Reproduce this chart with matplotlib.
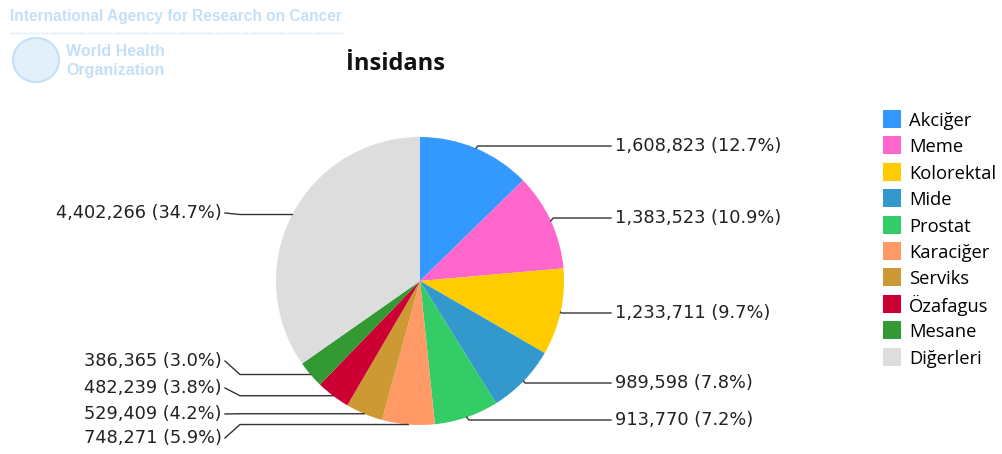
import matplotlib
matplotlib.use("Agg")
import matplotlib.pyplot as plt
import matplotlib.patches as mpatches
import numpy as np

categories = ["Akciğer", "Meme", "Kolorektal", "Mide", "Prostat", "Karaciğer",
              "Serviks", "Özafagus", "Mesane", "Diğerleri"]
values = [1608823, 1383523, 1233711, 989598, 913770, 748271,
          529409, 482239, 386365, 4402266]
colors = ["#3399FF", "#FF66CC", "#FFCC00", "#3399CC", "#33CC66", "#FF9966",
          "#CC9933", "#CC0033", "#339933", "#DDDDDD"]
title = "İnsidans"

# layout: label vertical positions in pixels (from top) and side
label_y_px = [146, 218, 313, 383, 420, 438, 414, 388, 361, 213]
label_side = ["R", "R", "R", "R", "R", "L", "L", "L", "L", "L"]

W, H, DPI = 1002, 454, 100
fig = plt.figure(figsize=(W / DPI, H / DPI), dpi=DPI)
fig.patch.set_facecolor("white")

cx, cy, R = 420, 281, 144  # pie centre/radius in px


def fx(x):
    return x / W


def fy(y):
    return 1 - y / H


ax = fig.add_axes([fx(cx - R), fy(cy + R), 2 * R / W, 2 * R / H])
ax.axis("off")

wedges, _ = ax.pie(values, colors=colors, startangle=90, counterclock=False,
                   radius=1, wedgeprops=dict(linewidth=0))
ax.set_xlim(-1, 1)
ax.set_ylim(-1, 1)
ax.set_aspect("auto")

total = sum(values)
px = 1.0 / R
lab_font = dict(family="DejaVu Sans", fontsize=12.8, color="#222222")
for w, v, ly, side in zip(wedges, values, label_y_px, label_side):
    mid = np.deg2rad((w.theta1 + w.theta2) / 2)
    axp, ayp = np.cos(mid), np.sin(mid)
    ly_d = (cy - ly) * px
    txt = f"{v:,} ({100 * v / total:.1f}%)"
    if side == "R":
        lx = (615 - cx) * px
        dy = abs(ly_d - ayp)
        xs = [axp, axp + dy * 0.8, lx - 4 * px]
        ys = [ayp, ly_d, ly_d]
        ax.plot(xs, ys, color="#333333", lw=1, clip_on=False)
        ax.text(lx, ly_d, txt, ha="left", va="center", clip_on=False, **lab_font)
    else:
        lx = (222 - cx) * px
        xs = [lx + 3 * px, lx + 18 * px, axp]
        ys = [ly_d, ayp, ayp]
        ax.plot(xs, ys, color="#333333", lw=1, clip_on=False)
        ax.text(lx, ly_d, txt, ha="right", va="center", clip_on=False, **lab_font)

# title
fig.text(fx(396), fy(64), title, ha="center", va="center", fontsize=17,
         fontweight="bold", family="Open Sans", color="#111111")

# legend
for i, (c, n) in enumerate(zip(colors, categories)):
    yc = 119 + 26.4 * i
    fig.patches.append(mpatches.Rectangle((fx(883), fy(yc + 9)), 18 / W, 18 / H,
                                          transform=fig.transFigure,
                                          facecolor=c, edgecolor="none"))
    fig.text(fx(909), fy(yc + 2), n, ha="left", va="center", fontsize=13.2,
             family="Open Sans", color="#000000")

# faint header logo
logo_c = "#c4e0f7"
fig.text(fx(10), fy(17), "International Agency for Research on Cancer",
         ha="left", va="center", fontsize=11.2, fontweight="bold",
         family="Liberation Sans", color=logo_c)
fig.lines.append(plt.Line2D([fx(10), fx(342)], [fy(33), fy(33)],
                            transform=fig.transFigure, color=logo_c, lw=1,
                            linestyle=(0, (1, 1))))
fig.patches.append(mpatches.Ellipse((fx(36), fy(60)), 46 / W, 44 / H,
                                    transform=fig.transFigure,
                                    facecolor="#e3f0fb", edgecolor=logo_c, lw=1.5))
fig.text(fx(66), fy(52), "World Health", ha="left", va="center", fontsize=11.5,
         fontweight="bold", family="Liberation Sans", color=logo_c)
fig.text(fx(66), fy(71), "Organization", ha="left", va="center", fontsize=11.5,
         fontweight="bold", family="Liberation Sans", color=logo_c)

fig.savefig("out.png", dpi=DPI, facecolor="white")
